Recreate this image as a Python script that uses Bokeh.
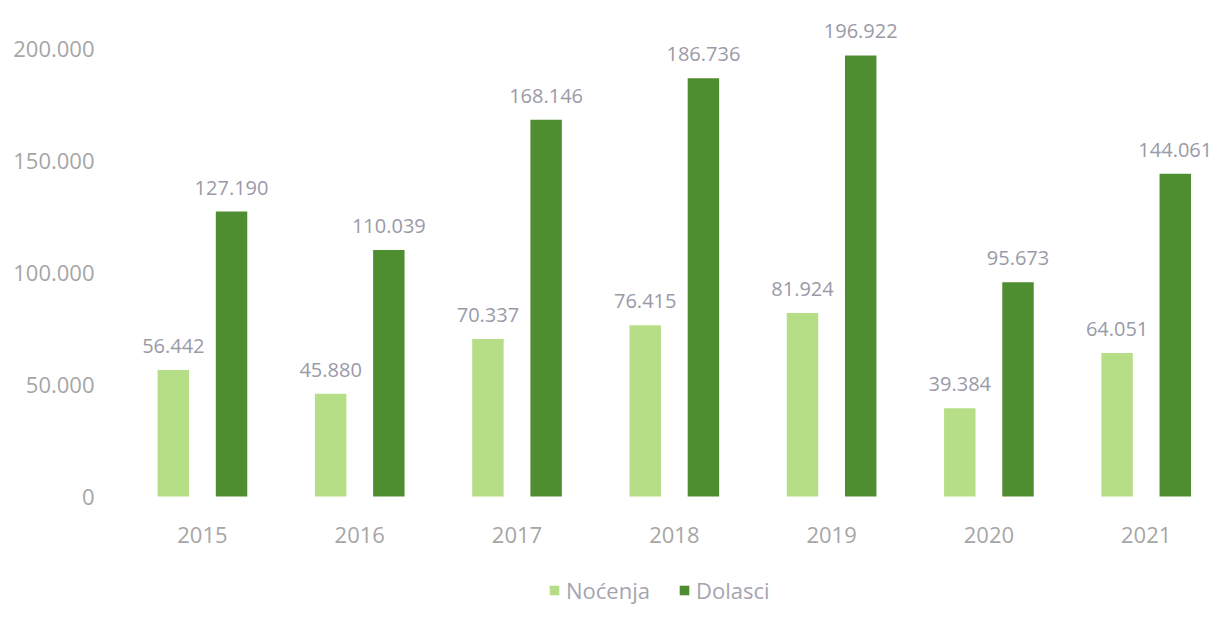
from bokeh.plotting import figure
from bokeh.models import ColumnDataSource, Range1d, FixedTicker, Legend, LegendItem, LabelSet
from bokeh.transform import dodge
from bokeh.core.properties import value
from bokeh.embed import file_html
from bokeh.resources import INLINE

years = ["2015", "2016", "2017", "2018", "2019", "2020", "2021"]
nocenja = [56442, 45880, 70337, 76415, 81924, 39384, 64051]
dolasci = [127190, 110039, 168146, 186736, 196922, 95673, 144061]
y_ticks = [0, 50000, 100000, 150000, 200000]
y_tick_labels = ["0", "50.000", "100.000", "150.000", "200.000"]
series_names = ["Noćenja", "Dolasci"]

LIGHT = "#b6de86"
DARK = "#4f8d31"
FONT = "Open Sans"


def fmt(v):
    return f"{v:,}".replace(",", ".")


idx = list(range(len(years)))
src = ColumnDataSource(dict(
    x=idx,
    noc=nocenja,
    dol=dolasci,
    noc_lbl=[fmt(v) for v in nocenja],
    dol_lbl=[fmt(v) for v in dolasci],
))

p = figure(width=1216, height=606, output_backend="svg", toolbar_location=None,
           x_range=Range1d(-0.521, 6.447), y_range=Range1d(-49107, 214286),
           min_border_left=120, min_border_top=16, min_border_bottom=0, min_border_right=0)
p.outline_line_color = None
p.grid.visible = False
p.background_fill_color = "white"

r1 = p.vbar(x=dodge("x", -0.185, range=p.x_range), top="noc", width=0.2, source=src,
            fill_color=LIGHT, line_color=None)
r2 = p.vbar(x=dodge("x", 0.185, range=p.x_range), top="dol", width=0.2, source=src,
            fill_color=DARK, line_color=None)

for col, lbl, off in (("noc", "noc_lbl", -0.185), ("dol", "dol_lbl", 0.185)):
    ls = LabelSet(x=dodge("x", off, range=p.x_range), y=col, text=lbl, source=src,
                  text_align="center", text_baseline="bottom", y_offset=17,
                  text_font=value(FONT), text_font_size="20px", text_color="#9a9aa8")
    p.add_layout(ls)

p.yaxis.ticker = FixedTicker(ticks=y_ticks)
p.yaxis.major_label_overrides = {t: l for t, l in zip(y_ticks, y_tick_labels)}
p.xaxis.ticker = FixedTicker(ticks=idx)
p.xaxis.major_label_overrides = {i: y for i, y in zip(idx, years)}
p.xaxis.fixed_location = 0
for ax in (p.xaxis[0], p.yaxis[0]):
    ax.axis_line_color = None
    ax.major_tick_line_color = None
    ax.minor_tick_line_color = None
    ax.major_label_text_font = FONT
    ax.major_label_text_font_size = "22px"
    ax.major_label_text_color = "#a6a6a6"
p.yaxis.major_label_standoff = 20
p.xaxis.major_label_standoff = 24

legend = Legend(items=[LegendItem(label=series_names[0], renderers=[r1]),
                       LegendItem(label=series_names[1], renderers=[r2])],
                orientation="horizontal", location=(428, 1),
                glyph_width=12, glyph_height=12, label_standoff=6, spacing=28,
                padding=0, margin=0, border_line_color=None, background_fill_alpha=0,
                label_text_font=FONT, label_text_font_size="22px", label_text_color="#a4a4b0")
p.add_layout(legend, "center")

open("out.html", "w").write(file_html(p, INLINE))
